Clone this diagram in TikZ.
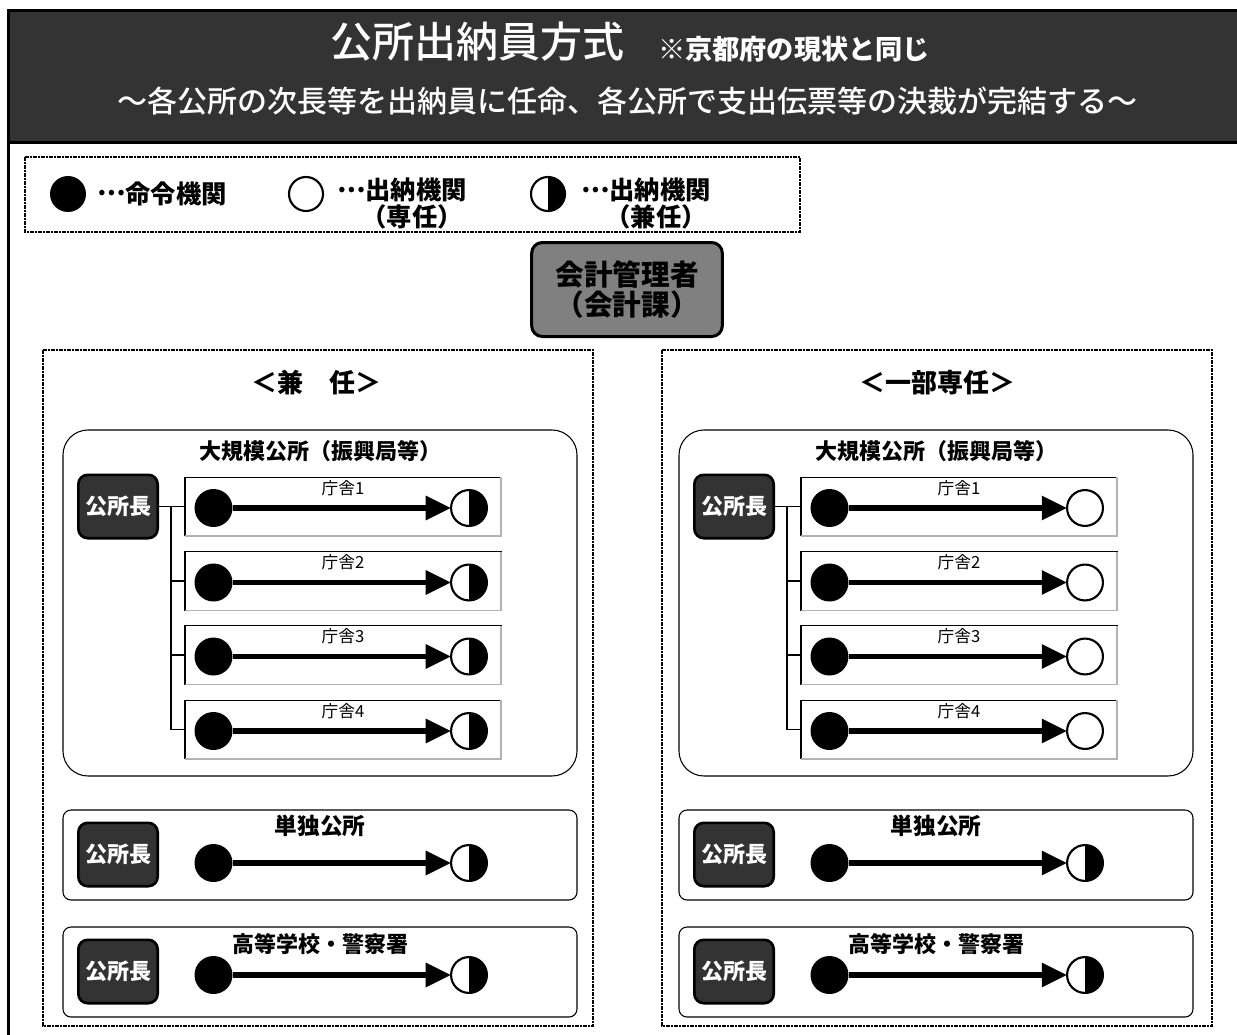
\documentclass[tikz,border=0pt]{standalone}
\usepackage{fontspec}
\setmainfont{Noto Sans CJK JP}
\newfontfamily\medfont{Noto Sans CJK JP Medium}
\usetikzlibrary{arrows.meta}
\definecolor{hdr}{HTML}{333333}
\definecolor{mgr}{HTML}{808080}
\newcommand{\mydots}{\raisebox{0.3em}{…}}
\begin{document}
\begin{tikzpicture}[x=0.75pt,y=-0.75pt,
  every node/.style={inner sep=0pt, outer sep=0pt},
  cmdc/.style={circle, fill=black, minimum size=28.5pt},
  opn/.style={circle, draw=black, line width=1.6pt, fill=white, minimum size=26.9pt},
  half/.style={opn, path picture={\fill[black] (path picture bounding box.north) rectangle (path picture bounding box.south east);}},
  flow/.style={line width=4pt, -{Triangle[length=19pt,width=17.5pt]}},
  chief/.style={draw=black, line width=2pt, fill=hdr, rounded corners=7pt, minimum width=59.5pt, minimum height=47.5pt, text=white, font=\bfseries\fontsize{16.5}{17}\selectfont},
  hall/.style={draw=black, line width=0.8pt, minimum width=237pt, minimum height=44pt},
  lbl/.style={font=\fontsize{12.5}{13}\selectfont},
  sub/.style={font=\bfseries\fontsize{16.5}{17}\selectfont},
  pdash/.style={line width=0.8pt, dash pattern=on 3pt off 1pt on 1pt off 1pt},
  leg/.style={font=\bfseries\fontsize{19}{20}\selectfont},
  tree/.style={line width=0.8pt}
]
\useasboundingbox (0,0) rectangle (1237,1034);
% outer frame and header
\draw[line width=2.25pt] (8,11) rectangle (1250,1050);
\filldraw[fill=hdr, draw=black, line width=2.25pt] (8,11) rectangle (1250,143);
\node[text=white, font=\medfont\fontsize{31.5}{32}\selectfont] (title) at (477,42) {公所出納員方式};
\node[text=white, font=\bfseries\fontsize{20.4}{21}\selectfont] (note) at (794,49) {※京都府の現状と同じ};
\node[text=white, font=\medfont\fontsize{22.5}{23}\selectfont] (subtitle) at (627,101) {～各公所の次長等を出納員に任命、各公所で支出伝票等の決裁が完結する～};
% legend
\draw[pdash] (25,157) rectangle (800,232);
\node[cmdc, minimum size=27pt] (lc1) at (68,194) {};
\node[leg, anchor=west] (lt1) at (97,194) {\mydots 命令機関};
\node[opn, minimum size=25.5pt] (lc2) at (306,194) {};
\node[leg, anchor=west] (lt2) at (337,190) {\mydots 出納機関};
\node[leg] (lt2b) at (412,217) {（専任）};
\node[half, minimum size=25.5pt] (lc3) at (548,194) {};
\node[leg, anchor=west] (lt3) at (581,190) {\mydots 出納機関};
\node[leg] (lt3b) at (656,217) {（兼任）};
% accounting manager
\node[draw=black, line width=2.25pt, fill=mgr, rounded corners=8pt, minimum width=143pt, minimum height=70.5pt, align=center, font=\bfseries\fontsize{21.5}{22}\selectfont] (mgr) at (627,289.5) {会計管理者\\（会計課）};
% panels
\draw[pdash] (43,350) rectangle (593,1026);
\draw[pdash] (662,350) rectangle (1212,1026);
\node[font=\bfseries\fontsize{19.5}{20}\selectfont] (pt1) at (316,383) {＜兼　任＞};
\node[font=\bfseries\fontsize{19.5}{20}\selectfont] (pt2) at (937,383) {＜一部専任＞};
\foreach \s/\p/\st in {0/L/half,616/R/opn}{
  \begin{scope}[shift={(\s,0)}]
    \draw[rounded corners=18.75pt, line width=0.8pt] (63,430) rectangle (577,776);
    \node[sub] (\p big) at (320,451) {大規模公所（振興局等）};
    \node[chief] (\p k) at (118,506.5) {公所長};
    \coordinate (\p j) at (171,506.5);
    \foreach \i/\y in {1/506.5,2/581,3/655,4/729.5}{
      \node[hall] (\p h\i) at (343,\y) {};
      \draw[gray!60, line width=1.2pt] (\p h\i.south west) -- (\p h\i.south east) -- (\p h\i.north east);
      \node[lbl] (\p l\i) at (343,\y-18.5) {庁舎\i};
      \node[cmdc] (\p a\i) at (213.5,\y+1.5) {};
      \node[\st] (\p b\i) at (469,\y+1.5) {};
      \draw[flow] (\p a\i) -- (\p b\i);
    }
    \draw[tree] (\p k) -- (\p h1);
    \draw[tree] (\p j) |- (\p h2.west);
    \draw[tree] (\p j) |- (\p h3.west);
    \draw[tree] (\p j) |- (\p h4.west);
    % single office
    \draw[rounded corners=6pt, line width=0.8pt] (63,810) rectangle (577,900);
    \node[sub, font=\bfseries\fontsize{17}{17}\selectfont] (\p st) at (320,826) {単独公所};
    \node[chief] (\p sk) at (118,854.5) {公所長};
    \node[cmdc] (\p sa) at (213.5,863) {};
    \node[half] (\p sb) at (469,863) {};
    \draw[flow] (\p sa) -- (\p sb);
    % schools / police
    \draw[rounded corners=6pt, line width=0.8pt] (63,927) rectangle (577,1017);
    \node[sub] (\p pt) at (320,944) {高等学校・警察署};
    \node[chief] (\p pk) at (118,971.5) {公所長};
    \node[cmdc] (\p pa) at (213.5,975) {};
    \node[half] (\p pb) at (469,975) {};
    \draw[flow] (\p pa) -- (\p pb);
  \end{scope}
}
\end{tikzpicture}
\end{document}
